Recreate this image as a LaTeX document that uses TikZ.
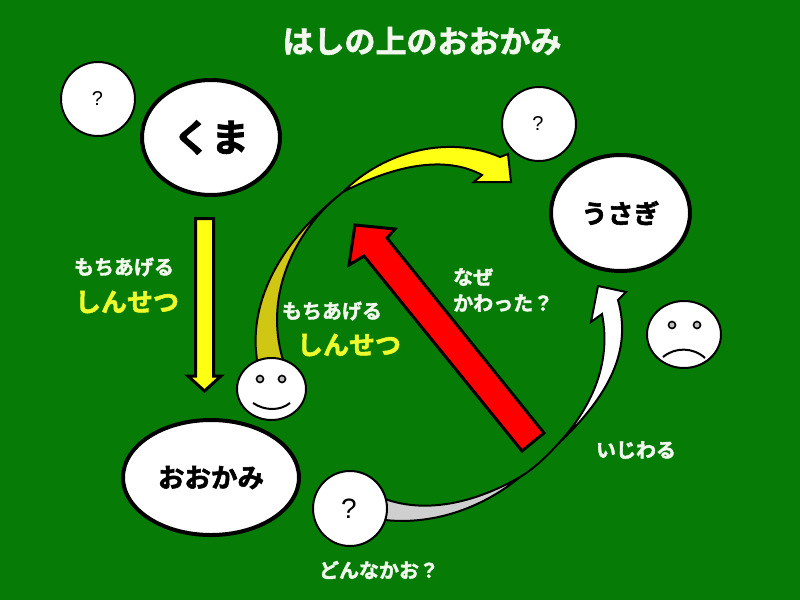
\documentclass[tikz,border=0pt]{standalone}
\usepackage{fontspec}
\setmainfont{Noto Sans CJK JP}[BoldFont=Noto Sans CJK JP Bold,BoldFeatures={FakeBold=2}]
\newfontfamily\qfont{Liberation Sans}
\definecolor{bg}{HTML}{067C06}
\definecolor{yel}{HTML}{FFFF14}
\definecolor{olive}{HTML}{CFC714}
\definecolor{lbl}{HTML}{F2F8EE}
\definecolor{ylbl}{HTML}{EEFB2C}
\definecolor{gry}{HTML}{CFCFCF}
\usetikzlibrary{shapes.geometric}
\tikzset{
  bubble/.style={ellipse,draw=black,fill=white,line width=4pt,inner sep=0pt},
  face/.style={ellipse,draw=black,fill=white,line width=2pt,inner sep=0pt},
  lab/.style={text=lbl,font=\bfseries\fontsize{20}{22}\selectfont,inner sep=0pt},
  ylab/.style={text=ylbl,font=\bfseries\fontsize{26}{28}\selectfont,inner sep=0pt},
  qm/.style={text=black,inner sep=0pt},
  blockarrow/.style={draw=black,line width=3pt,line join=miter},
  thinedge/.style={draw=black,line width=2pt,line join=miter,miter limit=4},
}
\begin{document}
\begin{tikzpicture}[x=1pt,y=-1pt]
\useasboundingbox (0,0) rectangle (800,600);
\fill[bg] (0,0) rectangle (800,600);
% yellow crescent arrow
\path[thinedge,fill=olive] (257,360) .. controls (248,300) and (282,240) .. (343,192)
  .. controls (300,225) and (262,290) .. (283,360) -- cycle;
\path[thinedge,fill=yel] (343,192) .. controls (385,150) and (450,135) .. (500,157)
  -- (508,154) -- (511,182) -- (474,182) -- (482,175)
  .. controls (445,155) and (395,165) .. (343,192) -- cycle;
% white crescent arrow
\path[thinedge,fill=gry] (385,499) .. controls (430,515) and (480,500) .. (520,477)
  .. controls (480,510) and (430,525) .. (385,520) -- cycle;
\draw[black,line width=2pt] (520,477) .. controls (535,468) and (548,455) .. (557,445);
\path[thinedge,fill=white] (557,445) .. controls (590,410) and (612,365) .. (602,314)
  -- (591,322) -- (598,286) -- (626,292) -- (618,300)
  .. controls (632,350) and (610,395) .. (557,445) -- cycle;
% red arrow
\path[blockarrow,fill=red] (355,225) -- (395,229) -- (387,238) -- (544,433) -- (522,451)
  -- (364,256) -- (349,265) -- cycle;
% straight yellow arrow
\path[blockarrow,fill=yel] (195.5,218.5) -- (213.5,218.5) -- (213.5,376) -- (221,376) -- (204.5,391)
  -- (188,376) -- (195.5,376) -- cycle;
% nodes
\node[bubble,minimum width=138pt,minimum height=115pt,font=\bfseries\fontsize{38}{40}\selectfont] (kuma) at (211,137.5) {くま};
\node[bubble,minimum width=139pt,minimum height=116pt,font=\bfseries\fontsize{26}{28}\selectfont] (usagi) at (620.5,213) {うさぎ};
\node[bubble,minimum width=176pt,minimum height=115pt,font=\bfseries\fontsize{26.5}{28}\selectfont] (ookami) at (211,477.5) {おおかみ};
\node[face,minimum width=74pt,minimum height=74pt] (q1) at (98,99) {};
\node[face,minimum width=74pt,minimum height=74pt] (q2) at (539,124) {};
\node[face,minimum width=74pt,minimum height=75pt] (q3) at (350,508.5) {};
\node[qm,font=\qfont\fontsize{20}{22}\selectfont] (t1) at (97.5,99) {?};
\node[qm,font=\qfont\fontsize{20}{22}\selectfont] (t2) at (538,124) {?};
\node[qm,font=\qfont\fontsize{28}{30}\selectfont] (t3) at (349,509) {?};
\node[face,minimum width=69pt,minimum height=62pt] (smile) at (271.5,389) {};
\node[face,minimum width=74pt,minimum height=67pt] (sad) at (684,334.5) {};
% faces
\draw[black,line width=1.6pt,fill=lightgray] (260,379) circle (3.5pt) (282,379) circle (3.5pt);
\draw[black,line width=2pt] (253,403) .. controls (265,411) and (280,411) .. (290,403);
\draw[black,line width=1.6pt,fill=lightgray] (672,325) circle (3.5pt) (697,325) circle (3.5pt);
\draw[black,line width=2pt] (663,357) .. controls (675,347) and (693,347) .. (705,358);
% labels
\node[text=lbl,font=\bfseries\fontsize{31}{33}\selectfont,inner sep=0pt] (title) at (422,41) {はしの上のおおかみ};
\node[lab] (m1) at (124,267) {もちあげる};
\node[ylab] (s1) at (127,302) {しんせつ};
\node[lab] (m2) at (332,311) {もちあげる};
\node[ylab] (s2) at (349,345) {しんせつ};
\node[lab,anchor=west] (n1) at (453,277) {なぜ};
\node[lab,anchor=west] (n2) at (453,303) {かわった？};
\node[lab] (iji) at (636,450) {いじわる};
\node[lab] (don) at (379,570) {どんなかお？};
\end{tikzpicture}
\end{document}
